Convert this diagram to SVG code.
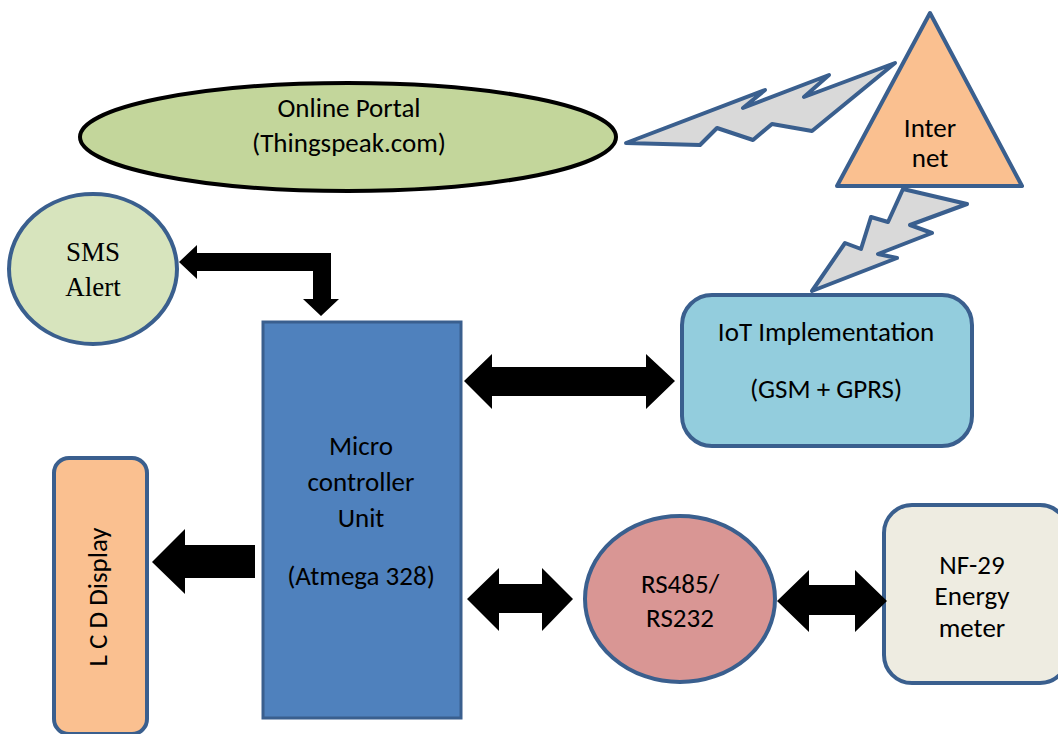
<svg xmlns="http://www.w3.org/2000/svg" width="1058" height="734" viewBox="0 0 1058 734">
  <style>
    .lbl { font-family: Carlito, "Open Sans", "Liberation Sans", sans-serif; font-size: 27px; fill: #000; text-anchor: middle; }
    .serif { font-family: "Liberation Serif", serif; font-size: 27px; fill: #000; text-anchor: middle; }
    .edge { stroke: #3A5F8E; stroke-width: 4; stroke-linejoin: round; }
    .bolt { fill: #D9D9D9; stroke: #3A5F8E; stroke-width: 4; stroke-linejoin: round; }
    .arrow { fill: #000; }
  </style>
  <rect width="1058" height="734" fill="#fff"/>

  <!-- wireless links -->
  <g id="links">
    <polygon class="bolt" points="626,143 765,90 743,108 829,75 804,97 895,63 812,131 772,124 753,140 717,128 700,145"/>
    <polygon class="bolt" points="903,189 967,204 910,225 932,233 878,254 897,258 812,291 845,243 861,249 871,217 888,222"/>
  </g>

  <g id="portal">
    <ellipse cx="348" cy="137" rx="268" ry="54" fill="#C3D69B" stroke="#000" stroke-width="4"/>
    <text class="lbl" x="349" y="117">Online Portal</text>
    <text class="lbl" x="349" y="152">(Thingspeak.com)</text>
  </g>

  <g id="internet">
    <polygon class="edge" points="930,13 1022,186 837,186" fill="#FAC090"/>
    <text class="lbl" x="930" y="137">Inter</text>
    <text class="lbl" x="930" y="167">net</text>
  </g>

  <g id="sms">
    <ellipse class="edge" cx="93" cy="269" rx="84" ry="75" fill="#D7E4BD"/>
    <text class="serif" x="93" y="261">SMS</text>
    <text class="serif" x="93" y="296">Alert</text>
  </g>

  <g id="mcu">
    <rect x="263" y="322" width="198" height="396" fill="#4F81BD" stroke="#3A5F8E" stroke-width="3"/>
    <text class="lbl" x="361" y="455">Micro</text>
    <text class="lbl" x="361" y="491">controller</text>
    <text class="lbl" x="361" y="527">Unit</text>
    <text class="lbl" x="361" y="585">(Atmega 328)</text>
  </g>

  <g id="iot">
    <rect class="edge" x="682" y="295" width="290" height="151" rx="30" fill="#93CDDD"/>
    <text class="lbl" x="826" y="341">IoT Implementation</text>
    <text class="lbl" x="826" y="398">(GSM + GPRS)</text>
  </g>

  <g id="lcd">
    <rect class="edge" x="54" y="458" width="93" height="276" rx="15" fill="#FAC090"/>
    <text class="lbl" transform="translate(107,597) rotate(-90)" x="0" y="0">L C D Display</text>
  </g>

  <g id="rs485">
    <ellipse class="edge" cx="680" cy="599" rx="95" ry="83" fill="#D99694"/>
    <text class="lbl" x="680" y="593">RS485/</text>
    <text class="lbl" x="680" y="627">RS232</text>
  </g>

  <g id="meter">
    <rect class="edge" x="884" y="505" width="184" height="178" rx="28" fill="#EEECE1"/>
    <text class="lbl" x="972" y="574">NF-29</text>
    <text class="lbl" x="972" y="605">Energy</text>
    <text class="lbl" x="972" y="637">meter</text>
  </g>

  <!-- block arrows -->
  <g id="connectors">
    <polygon class="arrow" points="179,262 197,245 197,253 331,253 331,299 339,299 321,316 303,299 313,299 313,271 197,271 197,279"/>
    <polygon class="arrow" points="464,381 492,354 492,367 646,367 646,354 675,381 646,409 646,396 492,396 492,409"/>
    <polygon class="arrow" points="152,562 185,529 185,545 255,545 255,578 185,578 185,594"/>
    <polygon class="arrow" points="467,599 499,568 499,584 542,584 542,568 573,599 542,631 542,613 499,613 499,631"/>
    <polygon class="arrow" points="777,601 809,570 809,585 855,585 855,570 887,601 855,632 855,615 809,615 809,632"/>
  </g>
</svg>
